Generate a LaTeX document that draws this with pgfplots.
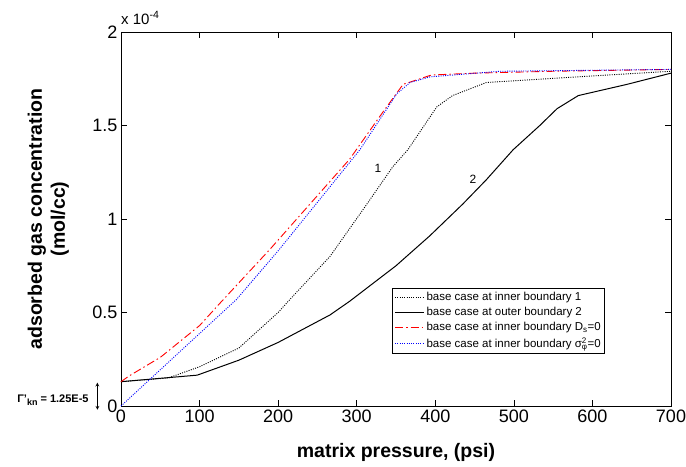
\documentclass[border=0pt]{standalone}
\usepackage{fontspec}
\setmainfont{Liberation Sans}
\usepackage{pgfplots}
\pgfplotsset{compat=1.18}

\begin{document}
\begin{tikzpicture}
\begin{axis}[%
width=550pt,
height=374pt,
scale only axis,
xmin=0, xmax=700,
ymin=0, ymax=2,
xtick={0,100,200,300,400,500,600,700},
ytick={0,0.5,1,1.5,2},
yticklabels={0,0.5,1,1.5,2},
tick align=inside,
major tick length=6pt,
axis line style={line width=0.9pt},
every tick/.style={black,line width=0.7pt},
tick label style={font=\fontsize{18}{20}\selectfont},
/pgf/number format/assume math mode=true,
xlabel={\bfseries matrix pressure, (psi)},
xlabel style={font=\fontsize{19.5}{22}\selectfont, yshift=-14pt},
ylabel={\bfseries\begin{tabular}{c}adsorbed gas concentration\\[1pt](mol/cc)\end{tabular}},
ylabel style={font=\fontsize{19.5}{22}\selectfont, yshift=14pt},
clip=false,
legend cell align=left,
legend style={at={(0.493,0.315)},anchor=north west,draw=black,line width=0.8pt,
  fill=white,font=\fontsize{11.5}{13}\selectfont,row sep=1.2pt,inner sep=2pt},
legend image code/.code={\draw[#1] plot coordinates {(0pt,0pt) (15pt,0pt) (29pt,0pt)};},
]
% 1: inner boundary (dotted black)
\addplot[black, line width=0.9pt, dash pattern=on 1pt off 1.3pt] coordinates {
(0,0.13) (60,0.15) (100,0.21) (150,0.31) (200,0.50) (215,0.57) (266,0.80)
(308,1.05) (346,1.28) (365,1.37) (402,1.60) (422,1.66) (465,1.73)
(600,1.765) (700,1.79)
};
\addlegendentry{base case at inner boundary 1}
% 2: outer boundary (solid black)
\addplot[black, line width=1pt] coordinates {
(0,0.13) (97,0.165) (150,0.245) (200,0.34) (266,0.487) (291,0.56) (350,0.75)
(393,0.91) (435,1.08) (465,1.21) (499,1.37) (533,1.50) (555,1.59) (582,1.66)
(644,1.72) (700,1.78)
};
\addlegendentry{base case at outer boundary 2}
% Ds = 0 (red dash-dot)
\addplot[red, line width=0.9pt, dash pattern=on 8pt off 3pt on 1.5pt off 3pt] coordinates {
(0,0.13) (10,0.16) (50,0.26) (100,0.43) (126,0.55) (190,0.84) (291,1.32)
(333,1.57) (359,1.72) (395,1.77) (450,1.78) (550,1.79) (700,1.80)
};
\addlegendentry{base case at inner boundary D\textsubscript{s}=0}
% sigma = 0 (blue dotted)
\addplot[blue, line width=0.9pt, dash pattern=on 1pt off 1.3pt] coordinates {
(0,0) (147,0.57) (202,0.84) (304,1.37) (351,1.67) (368,1.73) (393,1.76)
(482,1.79) (700,1.80)
};
\addlegendentry{base case at inner boundary σ\rlap{\textsuperscript{2}}\textsubscript{φ}=0}

\node[font=\fontsize{12}{14}\selectfont] at (axis cs:327,1.27) {1};
\node[font=\fontsize{12}{14}\selectfont] at (axis cs:448,1.21) {2};
\node[anchor=south west,font=\fontsize{15}{17}\selectfont,inner sep=0pt]
  at (axis cs:0,2.04) {x 10\textsuperscript{-4}};
\draw[<->,>=stealth,line width=0.7pt] (axis cs:-30,-0.02) -- (axis cs:-30,0.125);
\node[anchor=east,font=\bfseries\fontsize{11}{13}\selectfont,inner sep=0pt]
  at (axis cs:-41,0.03) {Γ'\raisebox{-0.45ex}{\fontsize{9}{10}\selectfont kn} = 1.25E-5};
\end{axis}
\pgfresetboundingbox
\path[use as bounding box] ([xshift=-121pt,yshift=-60pt]current axis.south west)
  rectangle ([xshift=15pt,yshift=32pt]current axis.north east);
\end{tikzpicture}
\end{document}
